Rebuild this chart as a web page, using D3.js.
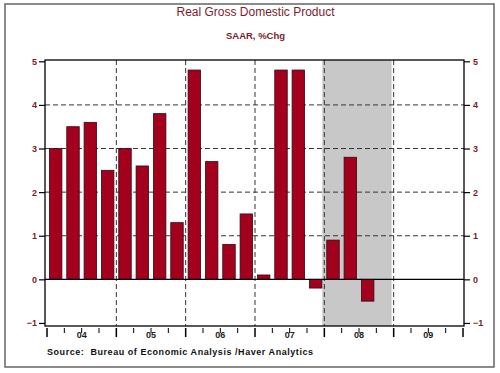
<!DOCTYPE html>
<html>
<head>
<meta charset="utf-8">
<script src="https://cdn.jsdelivr.net/npm/d3@7"></script>
<style>
  body { margin: 0; background: #fff; }
  text { font-family: "Liberation Sans", Arial, sans-serif; }
</style>
</head>
<body>
<script>
// quarterly % change, SAAR, starting 2004 Q1
const gdp = [3.0, 3.5, 3.6, 2.5,
             3.0, 2.6, 3.8, 1.3,
             4.8, 2.7, 0.8, 1.5,
             0.1, 4.8, 4.8, -0.2,
             0.9, 2.8, -0.5]
const startYear = 2004
const yearLabels = ['04', '05', '06', '07', '08', '09']
const yTicks = [-1, 0, 1, 2, 3, 4, 5]
const recession = [2007.97, 2008.97]

const W = 500
const H = 373
const red = '#7d1c2c'
const barFill = '#a2001d'

const svg = d3.select('body')
  .append('svg')
  .attr('width', W)
  .attr('height', H)

// outer frame
svg.append('rect')
  .attr('x', 5).attr('y', 4)
  .attr('width', 489).attr('height', 363)
  .attr('fill', '#fff')
  .attr('stroke', '#6e6e6e')
  .attr('stroke-width', 1.6)

const frame = { left: 45, right: 464, top: 60, bottom: 326 }

const x = d3.scaleLinear()
  .domain([startYear, startYear + yearLabels.length])
  .range([47, 463])

const y = d3.scaleLinear()
  .domain([-1.07, 5.03])
  .range([frame.bottom, frame.top])

const qw = (x(startYear + 1) - x(startYear)) / 4

// recession shading
svg.append('rect')
  .attr('x', x(recession[0]))
  .attr('y', frame.top)
  .attr('width', x(recession[1]) - x(recession[0]))
  .attr('height', frame.bottom - frame.top)
  .attr('fill', '#c8c8c8')

// horizontal dashed grid
svg.append('g')
  .selectAll('line')
  .data(yTicks.filter(d => d > 0 && d < 5))
  .join('line')
  .attr('x1', frame.left).attr('x2', frame.right)
  .attr('y1', d => y(d)).attr('y2', d => y(d))
  .attr('stroke', '#333')
  .attr('stroke-width', 1)
  .attr('stroke-dasharray', '5,3')

// vertical dashed year lines
svg.append('g')
  .selectAll('line')
  .data(d3.range(1, yearLabels.length))
  .join('line')
  .attr('x1', d => x(startYear + d)).attr('x2', d => x(startYear + d))
  .attr('y1', frame.top).attr('y2', frame.bottom)
  .attr('stroke', '#333')
  .attr('stroke-width', 1)
  .attr('stroke-dasharray', '5,3')

// bars
const bw = qw * 0.72
svg.append('g')
  .selectAll('rect')
  .data(gdp)
  .join('rect')
  .attr('x', (d, i) => x(startYear + (i + 0.5) / 4) - bw / 2)
  .attr('y', d => y(Math.max(0, d)))
  .attr('width', bw)
  .attr('height', d => Math.abs(y(d) - y(0)))
  .attr('fill', barFill)
  .attr('stroke', '#3a0810')
  .attr('stroke-width', 0.8)

// zero line
svg.append('line')
  .attr('x1', frame.left).attr('x2', frame.right)
  .attr('y1', y(0)).attr('y2', y(0))
  .attr('stroke', '#000')
  .attr('stroke-width', 1.2)

// plot frame
svg.append('rect')
  .attr('x', frame.left).attr('y', frame.top)
  .attr('width', frame.right - frame.left)
  .attr('height', frame.bottom - frame.top)
  .attr('fill', 'none')
  .attr('stroke', '#000')
  .attr('stroke-width', 1.3)

// left and right axes
const leftAxis = d3.axisLeft(y).tickValues(yTicks).tickSize(6).tickPadding(2).tickFormat(d3.format('d'))
const rightAxis = d3.axisRight(y).tickValues(yTicks).tickSize(6).tickPadding(3).tickFormat(d3.format('d'))

function styleAxis (g) {
  g.select('.domain').remove()
  g.selectAll('.tick line').attr('stroke', '#000').attr('stroke-width', 1.2)
  g.selectAll('.tick text')
    .attr('fill', red)
    .attr('font-size', 9)
    .attr('font-weight', 'bold')
    .attr('font-family', '"Liberation Sans", Arial, sans-serif')
}

svg.append('g')
  .attr('transform', `translate(${frame.left},0)`)
  .call(leftAxis)
  .call(styleAxis)

svg.append('g')
  .attr('transform', `translate(${frame.right},0)`)
  .call(rightAxis)
  .call(styleAxis)

// bottom axis: major ticks at years, minor at quarters
const quarterTicks = d3.range(0, yearLabels.length * 4 + 1)
svg.append('g')
  .selectAll('line')
  .data(quarterTicks)
  .join('line')
  .attr('x1', d => x(startYear + d / 4)).attr('x2', d => x(startYear + d / 4))
  .attr('y1', 328)
  .attr('y2', d => d % 4 === 0 ? 337 : 333)
  .attr('stroke', '#000')
  .attr('stroke-width', d => d % 4 === 0 ? 1.5 : 1)

svg.append('g')
  .selectAll('text')
  .data(yearLabels)
  .join('text')
  .attr('x', (d, i) => x(startYear + i + 0.5))
  .attr('y', 338)
  .attr('text-anchor', 'middle')
  .attr('font-size', 9)
  .attr('font-weight', 'bold')
  .attr('fill', '#222')
  .text(d => d)

// titles
svg.append('text')
  .attr('x', 255.5).attr('y', 15.5)
  .attr('text-anchor', 'middle')
  .attr('font-size', 12)
  .attr('fill', red)
  .text('Real Gross Domestic Product')

svg.append('text')
  .attr('x', 255.5).attr('y', 39)
  .attr('text-anchor', 'middle')
  .attr('font-size', 9.5)
  .attr('font-weight', 'bold')
  .attr('fill', red)
  .text('SAAR, %Chg')

svg.append('text')
  .attr('x', 47).attr('y', 355)
  .attr('font-size', 9)
  .attr('font-weight', 'bold')
  .attr('letter-spacing', 0.55)
  .attr('fill', '#111')
  .attr('xml:space', 'preserve')
  .style('white-space', 'pre')
  .text('Source:  Bureau of Economic Analysis /Haver Analytics')
</script>
</body>
</html>
